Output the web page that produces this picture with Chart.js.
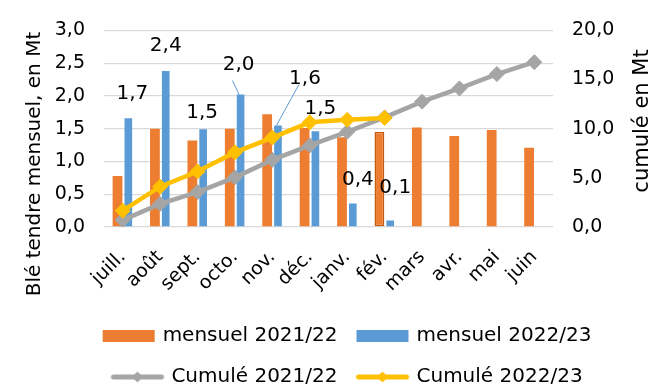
<!DOCTYPE html>
<html lang="fr">
<head>
<meta charset="utf-8">
<title>Blé tendre – mensuel et cumulé</title>
<script src="https://cdn.jsdelivr.net/npm/chart.js@4/dist/chart.umd.min.js"></script>
<style>
  html, body { margin: 0; padding: 0; background: #fff; }
  #wrap { width: 650px; height: 387px; }
</style>
</head>
<body>
<div id="wrap"><canvas id="bleChart"></canvas></div>
<script>
// campagne juillet -> juin
const months = ['juill.', 'août', 'sept.', 'octo.', 'nov.', 'déc.', 'janv.', 'fév.', 'mars', 'avr.', 'mai', 'juin'];

// volumes mensuels, en Mt
const mensuel2122 = [0.78, 1.50, 1.32, 1.50, 1.72, 1.51, 1.37, 1.45, 1.52, 1.39, 1.48, 1.21];
const mensuel2223 = [1.66, 2.38, 1.49, 2.02, 1.55, 1.46, 0.36, 0.10, null, null, null, null];

// cumuls de campagne, en Mt
const cumul2122 = [0.70, 2.35, 3.55, 5.05, 6.83, 8.30, 9.68, 11.15, 12.75, 14.10, 15.56, 16.77];
const cumul2223 = [1.66, 4.10, 5.65, 7.60, 9.10, 10.65, 10.90, 11.10, null, null, null, null];

const leftTicks = [0, 0.5, 1, 1.5, 2, 2.5, 3];
const rightTicks = [0, 5, 10, 15, 20];

const titleLeft = 'Blé tendre mensuel, en Mt';
const titleRight = 'cumulé en Mt';

const ORANGE = '#ED7D31';
const BLUE = '#5B9BD5';
const GREY = '#A5A5A5';
const YELLOW = '#FFC000';
const FONT = '"DejaVu Sans", sans-serif';

// étiquettes des barres 2022/23 : décalage [dx, dy] depuis le haut de la barre
const labelOffsets = [[4, -24], [0, -25], [-1, -17], [-2, -30], [27, -47], [5, -23], [5, -24], [5, -33]];
// traits de rappel : départ relatif au centre de l'étiquette
const leaderLines = { 3: [-6, 16], 4: [-6, 6] };

const fmt = v => v.toFixed(1).replace('.', ',');

Chart.defaults.font.family = FONT;
Chart.defaults.color = '#000';

function legendSwatch(kind, color) {
    const c = document.createElement('canvas');
    c.width = 56;
    c.height = 14;
    const g = c.getContext('2d');
    if (kind === 'bar') {
        g.fillStyle = color;
        g.fillRect(2, 1, 52, 12);
    } else {
        g.strokeStyle = color;
        g.lineWidth = 5;
        g.lineCap = 'round';
        g.beginPath();
        g.moveTo(4, 7);
        g.lineTo(52, 7);
        g.stroke();
        g.fillStyle = color;
        g.beginPath();
        g.moveTo(28, 1.5);
        g.lineTo(33.5, 7);
        g.lineTo(28, 12.5);
        g.lineTo(22.5, 7);
        g.closePath();
        g.fill();
    }
    return c;
}

const swatches = [
    legendSwatch('bar', ORANGE),
    legendSwatch('bar', BLUE),
    legendSwatch('line', GREY),
    legendSwatch('line', YELLOW)
];

// valeurs au-dessus des barres 2022/23
const blueLabels = {
    id: 'blueLabels',
    afterDatasetsDraw(chart) {
        const { ctx } = chart;
        const meta = chart.getDatasetMeta(1);
        ctx.save();
        ctx.font = '20px ' + FONT;
        ctx.fillStyle = '#000';
        ctx.textAlign = 'center';
        ctx.textBaseline = 'middle';
        meta.data.forEach((bar, i) => {
            const v = mensuel2223[i];
            if (v == null) return;
            const [dx, dy] = labelOffsets[i];
            const lx = bar.x + dx;
            const ly = bar.y + dy;
            const lead = leaderLines[i];
            if (lead) {
                ctx.strokeStyle = BLUE;
                ctx.lineWidth = 1;
                ctx.beginPath();
                ctx.moveTo(lx + lead[0], ly + lead[1]);
                ctx.lineTo(bar.x - 1.5, bar.y);
                ctx.stroke();
            }
            ctx.fillText(fmt(v), lx, ly);
        });
        ctx.restore();
    }
};

// titres des deux axes, lus de bas en haut
const axisTitles = {
    id: 'axisTitles',
    afterDraw(chart) {
        const { ctx } = chart;
        ctx.save();
        ctx.fillStyle = '#000';
        ctx.textAlign = 'center';
        ctx.textBaseline = 'alphabetic';
        [[titleLeft, 40, 164, 20], [titleRight, 648, 121, 21]].forEach(([text, x, y, size]) => {
            ctx.save();
            ctx.font = size + 'px ' + FONT;
            ctx.translate(x, y);
            ctx.rotate(-Math.PI / 2);
            ctx.fillText(text, 0, 0);
            ctx.restore();
        });
        ctx.restore();
    }
};

const ctx = document.getElementById('bleChart').getContext('2d');

new Chart(ctx, {
    type: 'bar',
    data: {
        labels: months,
        datasets: [
            {
                label: 'mensuel 2021/22',
                data: mensuel2122,
                backgroundColor: ORANGE,
                borderColor: months.map((m, i) => i === 7 ? '#C55A11' : ORANGE),
                borderWidth: months.map((m, i) => i === 7 ? 1.5 : 0),
                borderSkipped: false,
                categoryPercentage: 0.556,
                barPercentage: 0.94,
                yAxisID: 'y',
                order: 2
            },
            {
                label: 'mensuel 2022/23',
                data: mensuel2223,
                backgroundColor: BLUE,
                borderWidth: 0,
                categoryPercentage: 0.6,
                barPercentage: 0.68,
                yAxisID: 'y',
                order: 2
            },
            {
                type: 'line',
                label: 'Cumulé 2021/22',
                data: cumul2122,
                borderColor: GREY,
                backgroundColor: GREY,
                borderWidth: 4.5,
                pointStyle: 'rectRot',
                pointRadius: 7.5,
                pointBorderWidth: 1,
                tension: 0,
                yAxisID: 'y2',
                order: 1
            },
            {
                type: 'line',
                label: 'Cumulé 2022/23',
                data: cumul2223,
                borderColor: YELLOW,
                backgroundColor: YELLOW,
                borderWidth: 4.5,
                pointStyle: 'rectRot',
                pointRadius: 7.5,
                pointBorderWidth: 1,
                tension: 0,
                yAxisID: 'y2',
                order: 0
            }
        ]
    },
    options: {
        responsive: true,
        maintainAspectRatio: false,
        animation: false,
        layout: {
            padding: { top: 21, left: 46, right: 0, bottom: -10 }
        },
        plugins: {
            tooltip: { enabled: false },
            legend: {
                position: 'bottom',
                labels: {
                    usePointStyle: true,
                    pointStyleWidth: 48,
                    padding: 21,
                    font: { size: 20 },
                    color: '#000',
                    generateLabels(chart) {
                        const items = Chart.defaults.plugins.legend.labels.generateLabels(chart);
                        items.forEach(it => { it.pointStyle = swatches[it.datasetIndex]; });
                        return items.sort((a, b) => a.datasetIndex - b.datasetIndex);
                    }
                }
            }
        },
        scales: {
            x: {
                grid: { display: false },
                border: { display: false },
                ticks: {
                    autoSkip: false,
                    minRotation: 45,
                    maxRotation: 45,
                    padding: 11,
                    font: { size: 19 }
                },
                afterFit(scale) { scale.height = 78; }
            },
            y: {
                position: 'left',
                min: 0,
                max: 3,
                grid: { color: '#D9D9D9', lineWidth: 1.3, drawTicks: false },
                border: { display: false },
                ticks: {
                    padding: 19,
                    font: { size: 19 },
                    callback: v => fmt(v)
                },
                afterBuildTicks(scale) { scale.ticks = leftTicks.map(v => ({ value: v })); },
                afterFit(scale) { scale.width = 58; }
            },
            y2: {
                position: 'right',
                min: 0,
                max: 20,
                grid: { display: false, drawTicks: false },
                border: { display: false },
                ticks: {
                    padding: 19,
                    font: { size: 19 },
                    callback: v => fmt(v)
                },
                afterBuildTicks(scale) { scale.ticks = rightTicks.map(v => ({ value: v })); },
                afterFit(scale) { scale.width = 97; }
            }
        }
    },
    plugins: [blueLabels, axisTitles]
});
</script>
</body>
</html>
